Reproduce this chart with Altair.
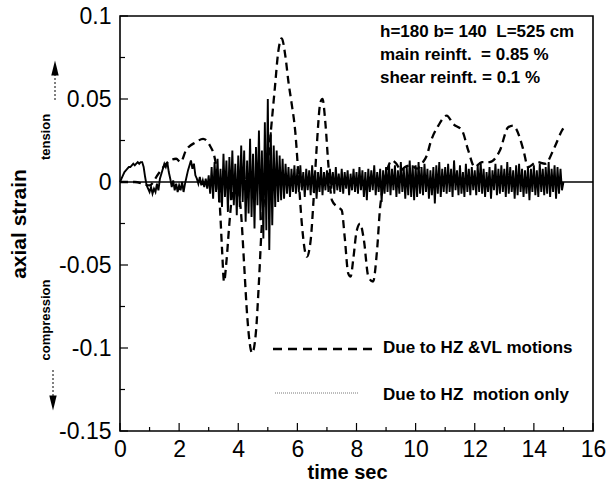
import altair as alt
import pandas as pd

# ---- Due to HZ & VL motions (dashed curve) ----
hzvl_time = [0.0, 0.5, 1.0, 1.3, 1.62, 1.9, 2.05, 2.23, 2.57, 2.81, 3.04, 3.21, 3.3, 3.38, 3.45,
             3.52, 3.6, 3.7, 3.8, 3.95, 4.1, 4.2, 4.3, 4.47, 4.6, 4.7, 4.8, 4.95, 5.1, 5.24,
             5.35, 5.47, 5.6, 5.7, 5.8, 5.93, 6.05, 6.15, 6.32, 6.45, 6.55, 6.65, 6.78, 6.85, 6.95,
             7.05, 7.17, 7.35, 7.5, 7.6, 7.72, 7.8, 7.9, 8.0, 8.12, 8.25, 8.4, 8.56, 8.7, 8.8,
             8.86, 9.03, 9.2, 9.35, 9.5, 9.64, 9.85, 10.05, 10.25, 10.4, 10.49, 10.77, 11.05, 11.27, 11.57,
             11.78, 12.0, 12.24, 12.5, 12.85, 13.13, 13.3, 13.4, 13.65, 13.8, 14.1, 14.38, 14.7, 14.95, 15.0]
hzvl_strain = [0.0, 0.0, -0.002, 0.005, 0.012, 0.014, 0.012, 0.019, 0.024, 0.026, 0.022, 0.014, 0.004, -0.015, -0.040,
               -0.060, -0.048, -0.025, -0.007, 0.0, -0.02, -0.05, -0.08, -0.103, -0.09, -0.06, -0.025, 0.0, 0.03, 0.057,
               0.078, 0.0865, 0.075, 0.06, 0.048, 0.03, 0.0, -0.025, -0.045, -0.035, -0.01, 0.02, 0.048, 0.050, 0.035,
               0.01, -0.011, -0.015, -0.017, -0.033, -0.055, -0.057, -0.045, -0.03, -0.025, -0.035, -0.057, -0.060, -0.04, -0.015,
               -0.007, 0.007, 0.013, 0.011, 0.007, 0.009, 0.010, 0.008, 0.012, 0.017, 0.023, 0.034, 0.040, 0.035, 0.031,
               0.019, 0.009, 0.012, 0.012, 0.019, 0.033, 0.034, 0.032, 0.019, 0.009, 0.012, 0.011, 0.021, 0.031, 0.0325]

# ---- Due to HZ motion only (thin line), one value every 0.05 s from 0 to 15 s ----
hz_step = 0.05
hz_only = [
    0.000, 0.002, 0.004, 0.006, 0.007, 0.008, 0.009, 0.009, 0.010, 0.011, 0.010, 0.011, 0.012, 0.011, 0.012, 0.012, 0.009, 0.003, -0.002, -0.004,
    -0.006, -0.003, -0.007, -0.004, -0.006, -0.001, -0.005, 0.002, 0.005, 0.008, 0.011, 0.009, 0.012, 0.006, 0.002, -0.003, 0.001, -0.005, -0.001, -0.006,
    -0.002, -0.005, 0.000, -0.006, -0.001, 0.003, 0.007, 0.010, 0.013, 0.008, 0.011, 0.004, 0.002, -0.001, 0.003, -0.002, 0.001, -0.003, 0.002, -0.004,
    0.004, -0.007, 0.009, -0.010, 0.012, -0.006, 0.014, -0.012, 0.008, -0.015, 0.017, -0.009, 0.013, -0.018, 0.015, -0.011, 0.019, -0.014, 0.011, -0.020,
    0.016, -0.015, 0.022, -0.012, 0.019, -0.024, 0.013, -0.019, 0.026, -0.021, 0.017, -0.028, 0.021, -0.014, 0.031, -0.023, 0.019, -0.034, 0.036, -0.029,
    0.050, -0.041, 0.030, -0.026, 0.022, -0.015, 0.019, -0.012, 0.016, -0.011, 0.014, -0.010, 0.011, -0.007, 0.009, -0.009, 0.008, -0.006, 0.010, -0.007,
    0.008, -0.006, 0.010, -0.005, 0.006, -0.009, 0.008, -0.005, 0.007, -0.008, 0.010, -0.006, 0.007, -0.010, 0.006, -0.006, 0.009, -0.008, 0.006, -0.005,
    0.007, -0.006, 0.008, -0.004, 0.006, -0.007, 0.009, -0.005, 0.005, -0.006, 0.008, -0.007, 0.006, -0.004, 0.007, -0.008, 0.005, -0.005, 0.008, -0.006,
    0.006, -0.007, 0.009, -0.005, 0.007, -0.009, 0.006, -0.011, 0.008, -0.006, 0.007, -0.005, 0.010, -0.008, 0.006, -0.006, 0.008, -0.012, 0.007, -0.007,
    0.009, -0.006, 0.011, -0.008, 0.008, -0.005, 0.010, -0.009, 0.007, -0.007, 0.012, -0.006, 0.008, -0.010, 0.009, -0.008, 0.013, -0.009, 0.010, -0.011,
    0.010, -0.009, 0.012, -0.007, 0.009, -0.008, 0.011, -0.006, 0.008, -0.010, 0.007, -0.008, 0.009, -0.013, 0.010, -0.007, 0.012, -0.009, 0.008, -0.006,
    0.009, -0.007, 0.011, -0.006, 0.008, -0.009, 0.013, -0.005, 0.007, -0.008, 0.010, -0.007, 0.006, -0.009, 0.011, -0.006, 0.008, -0.008, 0.009, -0.005,
    0.007, -0.008, 0.010, -0.006, 0.012, -0.007, 0.008, -0.009, 0.006, -0.006, 0.009, -0.010, 0.007, -0.005, 0.011, -0.008, 0.008, -0.007, 0.010, -0.006,
    0.008, -0.009, 0.012, -0.007, 0.009, -0.006, 0.007, -0.010, 0.010, -0.008, 0.011, -0.006, 0.008, -0.009, 0.007, -0.007, 0.009, -0.011, 0.008, -0.006,
    0.010, -0.008, 0.007, -0.009, 0.011, -0.006, 0.008, -0.008, 0.009, -0.007, 0.012, -0.009, 0.008, -0.006, 0.010, -0.010, 0.009, -0.007, 0.008, -0.005,
    0.000,
]
hz_time = [round(i * hz_step, 2) for i in range(len(hz_only))]

# ---- axes ----
x_major = [0, 2, 4, 6, 8, 10, 12, 14, 16]
x_minor = [1, 3, 5, 7, 9, 11, 13, 15]
y_major = [-0.15, -0.1, -0.05, 0, 0.05, 0.1]
y_minor = [-0.125, -0.075, -0.025, 0.025, 0.075]
zero_line = [0.0]

notes = ["h=180 b= 140\u00a0 L=525 cm", "main reinft.\u00a0 = 0.85 %", "shear reinft. = 0.1 %"]
legend_labels = ["Due to HZ &VL motions", "Due to HZ\u00a0 motion only"]

W, H = 473, 415
FONT = "Liberation Sans"

xs = alt.Scale(domain=[0, 16], nice=False, zero=False)
ys = alt.Scale(domain=[-0.15, 0.1], nice=False, zero=False)

x_axis = alt.Axis(values=x_major, title="time sec", grid=False, ticks=False, domain=False,
                  labelFontSize=23, labelPadding=7, labelFlush=False, labelOverlap=False,
                  labelColor="black", titleFontSize=20, titleFontWeight="bold", titleColor="black",
                  titlePadding=1, titleX=227)
y_axis = alt.Axis(values=y_major, title="axial strain", grid=False, ticks=False, domain=False,
                  labelFontSize=23, labelPadding=9, labelFlush=False, labelOverlap=False,
                  labelExpr="datum.value + ''", labelColor="black",
                  titleFontSize=21, titleFontWeight="bold", titleColor="black", titlePadding=29)


def X(field):
    return alt.X(field, scale=xs, axis=x_axis)


def Y(field):
    return alt.Y(field, scale=ys, axis=y_axis)


hzvl_df = pd.DataFrame({"t": hzvl_time, "v": hzvl_strain})
hz_df = pd.DataFrame({"t": hz_time, "v": hz_only})

zero = alt.Chart(pd.DataFrame({"v": zero_line})).mark_rule(color="black", strokeWidth=1.3).encode(
    y=Y("v:Q"))

hz_line = alt.Chart(hz_df).mark_line(color="black", strokeWidth=1.9).encode(
    x=X("t:Q"), y=Y("v:Q"))

hzvl_line = alt.Chart(hzvl_df).mark_line(color="black", strokeWidth=2.3, strokeDash=[8, 5],
                                         interpolate="monotone").encode(
    x=X("t:Q"), y=Y("v:Q"))

xt_major = alt.Chart(pd.DataFrame({"t": x_major})).mark_rule(color="black", strokeWidth=1.2).encode(
    x=X("t:Q"), y=alt.value(H), y2=alt.value(H - 8))
xt_minor = alt.Chart(pd.DataFrame({"t": x_minor})).mark_rule(color="black", strokeWidth=1.2).encode(
    x=X("t:Q"), y=alt.value(H), y2=alt.value(H - 4))
yt_major = alt.Chart(pd.DataFrame({"v": y_major})).mark_rule(color="black", strokeWidth=1.2).encode(
    y=Y("v:Q"), x=alt.value(0), x2=alt.value(8))
yt_minor = alt.Chart(pd.DataFrame({"v": y_minor})).mark_rule(color="black", strokeWidth=1.2).encode(
    y=Y("v:Q"), x=alt.value(0), x2=alt.value(5))

one = alt.Data(values=[{}])
layers = [zero, hz_line, hzvl_line, xt_major, xt_minor, yt_major, yt_minor]

# annotation block
for i, txt in enumerate(notes):
    layers.append(alt.Chart(one).mark_text(text=txt, font=FONT, fontSize=17, fontWeight="bold",
                                           align="left", baseline="middle", color="black").encode(
        x=alt.value(260), y=alt.value(16 + 23 * i)))

# legend
layers.append(alt.Chart(one).mark_rule(color="black", strokeWidth=2.3, strokeDash=[9, 6]).encode(
    x=alt.value(153), x2=alt.value(257), y=alt.value(333)))
layers.append(alt.Chart(one).mark_rule(color="#555555", strokeWidth=0.8, strokeDash=[1, 1]).encode(
    x=alt.value(155), x2=alt.value(238), y=alt.value(377)))
for i, txt in enumerate(legend_labels):
    layers.append(alt.Chart(one).mark_text(text=txt, font=FONT, fontSize=17, fontWeight="bold",
                                           align="left", baseline="middle", color="black").encode(
        x=alt.value(263), y=alt.value(332 + 47 * i)))

# tension / compression indicators
layers.append(alt.Chart(one).mark_text(text="tension", font=FONT, fontSize=13, fontWeight="bold",
                                       angle=270, align="center", baseline="middle", color="black").encode(
    x=alt.value(-74), y=alt.value(121)))
layers.append(alt.Chart(one).mark_text(text="compression", font=FONT, fontSize=13, fontWeight="bold",
                                       angle=270, align="center", baseline="middle", color="black").encode(
    x=alt.value(-74), y=alt.value(304)))
layers.append(alt.Chart(one).mark_rule(color="black", strokeWidth=1, strokeDash=[2, 2]).encode(
    x=alt.value(-65), y=alt.value(58), y2=alt.value(84)))
layers.append(alt.Chart(one).mark_point(shape="M0,-1L0.5,1L-0.5,1Z", size=220, filled=True,
                                        color="black", opacity=1, strokeWidth=0).encode(
    x=alt.value(-65), y=alt.value(52)))
layers.append(alt.Chart(one).mark_rule(color="black", strokeWidth=1, strokeDash=[2, 2]).encode(
    x=alt.value(-67), y=alt.value(354), y2=alt.value(381)))
layers.append(alt.Chart(one).mark_point(shape="M0,1L0.5,-1L-0.5,-1Z", size=220, filled=True,
                                        color="black", opacity=1, strokeWidth=0).encode(
    x=alt.value(-67), y=alt.value(387)))

chart = alt.layer(*layers).properties(
    width=W, height=H,
    autosize=alt.AutoSizeParams(type="none"),
    padding={"left": 120, "top": 16, "right": 14, "bottom": 53},
    background="white",
).configure(font=FONT).configure_view(stroke="black", strokeWidth=1.6)

chart.save("out.html", embed_options={"renderer": "svg", "actions": False})
